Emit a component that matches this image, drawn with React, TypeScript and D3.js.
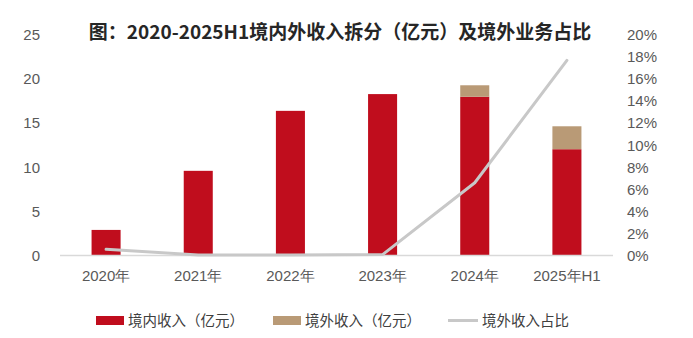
import React from "react";
import * as d3 from "d3";

const categories = ["2020年", "2021年", "2022年", "2023年", "2024年", "2025年H1"];
const domestic = [2.9, 9.6, 16.4, 18.3, 18.0, 12.05];
const overseas = [0, 0, 0, 0, 1.3, 2.6];
const overseasShare = [0.56, 0.05, 0.05, 0.08, 6.6, 17.7];
const leftTicks = [0, 5, 10, 15, 20, 25];
const rightTicks = [0, 2, 4, 6, 8, 10, 12, 14, 16, 18, 20];

const W = 693, H = 338;
const RED = "#c00d1d", TAN = "#b99a76", GREY = "#c8c8c8";
const FONT = "'Liberation Sans', Arial, sans-serif";
const CJK = "'Noto Sans CJK SC', sans-serif";

export default function App() {
  const x = d3.scaleBand().domain(categories).range([60, 613]).paddingInner(0.685).paddingOuter(0.3425);
  const yL = d3.scaleLinear().domain([0, 25]).range([255.5, 35]);
  const yR = d3.scaleLinear().domain([0, 20]).range([255.5, 35]);
  const line = d3.line<number>()
    .x((_, i) => (x(categories[i]) as number) + x.bandwidth() / 2)
    .y((d) => yR(d));

  return (
    <svg width={W} height={H} style={{ position: "absolute", left: 0, top: 0, background: "#fff" }}>
      <text x={340} y={39} textAnchor="middle" fontFamily={CJK} fontWeight="bold" fontSize={19} fill="#262626">
        图：2020-2025H1境内外收入拆分（亿元）及境外业务占比
      </text>
      {leftTicks.map((t) => (
        <text key={"l" + t} x={40} y={yL(t)} dy="0.35em" textAnchor="end" fontFamily={FONT} fontSize={15} fill="#595959">
          {t}
        </text>
      ))}
      {rightTicks.map((t) => (
        <text key={"r" + t} x={627} y={yR(t)} dy="0.35em" textAnchor="start" fontFamily={FONT} fontSize={15} fill="#595959">
          {t + "%"}
        </text>
      ))}
      {categories.map((c, i) => (
        <g key={c}>
          <rect x={x(c)} width={x.bandwidth()} y={yL(domestic[i])} height={yL(0) - yL(domestic[i])} fill={RED} />
          {overseas[i] > 0 && (
            <rect x={x(c)} width={x.bandwidth()} y={yL(domestic[i] + overseas[i])}
              height={yL(domestic[i]) - yL(domestic[i] + overseas[i])} fill={TAN} />
          )}
          <text x={(x(c) as number) + x.bandwidth() / 2} y={281} textAnchor="middle" fontFamily={FONT} fontSize={15} fill="#595959">
            {c}
          </text>
        </g>
      ))}
      <line x1={60} x2={613} y1={255.5} y2={255.5} stroke="#d9d9d9" strokeWidth={1.5} />
      <path d={line(overseasShare) as string} fill="none" stroke={GREY} strokeWidth={3} strokeLinejoin="round" strokeLinecap="round" />
      <g fontFamily={CJK} fontSize={14.5} fill="#404040">
        <rect x={96} y={316} width={28} height={9} fill={RED} />
        <text x={128} y={321} dy="0.35em">境内收入（亿元）</text>
        <rect x={273} y={316} width={28} height={9} fill={TAN} />
        <text x={305} y={321} dy="0.35em">境外收入（亿元）</text>
        <line x1={448} x2={478} y1={320.5} y2={320.5} stroke={GREY} strokeWidth={3} />
        <text x={482} y={321} dy="0.35em">境外收入占比</text>
      </g>
    </svg>
  );
}
